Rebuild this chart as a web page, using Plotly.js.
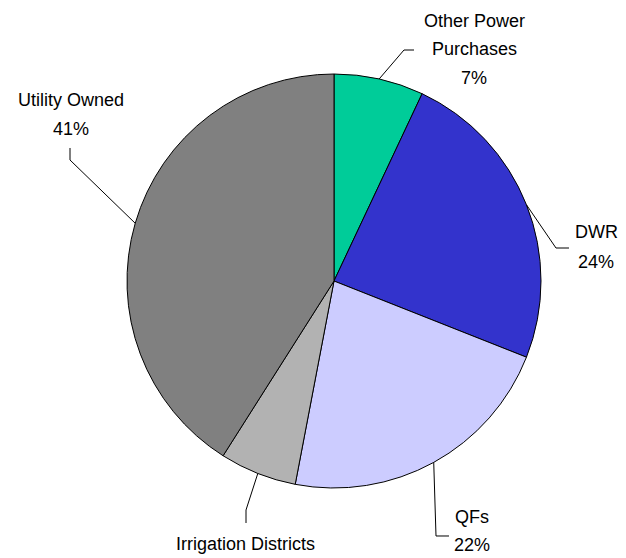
<!DOCTYPE html>
<html>
<head>
<meta charset="utf-8">
<script src="https://cdn.plot.ly/plotly-3.0.1.min.js"></script>
<style>html,body{margin:0;padding:0;background:#fff;}#chart{width:626px;height:558px;}</style>
</head>
<body>
<div id="chart"></div>
<script>
// ---- data ----
const labels = ['Other Power Purchases', 'DWR', 'QFs', 'Irrigation Districts', 'Utility Owned'];
const displayLines = [['Other Power', 'Purchases'], ['DWR'], ['QFs'], ['Irrigation Districts'], ['Utility Owned']];
const values = [7, 24, 22, 6, 41];
const colors = ['#00CC99', '#3333CC', '#CCCCFF', '#B2B2B2', '#808080'];
// the reference crops the percentage of this slice off the bottom edge
const showPct = [true, true, true, false, true];

// ---- layout placement (pixels) ----
const W = 626, H = 558;
const cx = 334, cy = 281, R = 207;
const labelPos = [[474, 20], [596, 231.5], [472, 516], [245, 543], [70.5, 99]]; // x centre, first line centre
const pitch = [28.5, 29.5, 27.5, 28.5, 29];
const elbows = [
  [[404, 50], [414, 50]],
  [[556, 248], [569, 248]],
  [[436, 536], [449, 536]],
  [[246, 510], [246, 523]],
  [[70, 160], [70, 148]]
];

const FONT = '"Liberation Sans", Arial, sans-serif';
const FSIZE = 18;

const pl = cx - R, pt = cy - R, pw = 2 * R, ph = 2 * R;
const px2x = p => (p - pl) / pw;
const py2y = p => 1 - (p - pt) / ph;

const total = values.reduce((a, b) => a + b, 0);
const annotations = [];
const shapes = [];
let cum = 0;
values.forEach((v, i) => {
  const mid = (cum + v / 2) / total * 2 * Math.PI;
  cum += v;
  const sx = cx + R * Math.sin(mid), sy = cy - R * Math.cos(mid);
  const pts = [[sx, sy]].concat(elbows[i]);
  const path = pts.map((p, k) => (k ? 'L' : 'M') + px2x(p[0]).toFixed(5) + ',' + py2y(p[1]).toFixed(5)).join(' ');
  shapes.push({type: 'path', xref: 'paper', yref: 'paper', path: path, line: {color: '#000', width: 1}});
  const lines = displayLines[i].slice();
  if (showPct[i]) lines.push(Math.round(v / total * 100) + '%');
  lines.forEach((t, k) => {
    annotations.push({
      xref: 'paper', yref: 'paper',
      x: px2x(labelPos[i][0]), y: py2y(labelPos[i][1] + k * pitch[i] + 1),
      xanchor: 'center', yanchor: 'middle', showarrow: false,
      text: t, font: {family: FONT, size: FSIZE, color: '#000'}
    });
  });
});

const trace = {
  type: 'pie', labels: labels, values: values, sort: false, direction: 'clockwise', rotation: 0,
  marker: {colors: colors, line: {color: '#000', width: 1}},
  textinfo: 'none', hoverinfo: 'label+percent', showlegend: false
};

const layout = {
  width: W, height: H,
  margin: {l: pl, r: W - (cx + R), t: pt, b: H - (cy + R), pad: 0},
  paper_bgcolor: '#fff', plot_bgcolor: '#fff',
  showlegend: false,
  annotations: annotations, shapes: shapes
};

Plotly.newPlot('chart', [trace], layout, {displayModeBar: false, staticPlot: true});
</script>
</body>
</html>
